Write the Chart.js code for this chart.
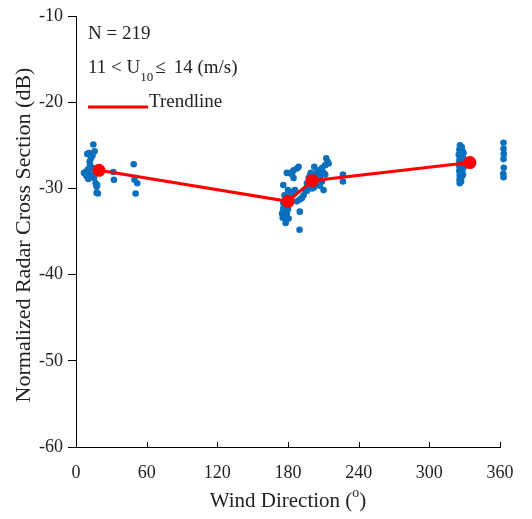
<!DOCTYPE html>
<html>
<head>
<meta charset="utf-8">
<script src="https://cdn.jsdelivr.net/npm/chart.js@4.4.0/dist/chart.umd.min.js"></script>
<style>
html, body { margin: 0; padding: 0; background: #fff; }
</style>
</head>
<body>
<canvas id="nrcsChart" width="532" height="519"></canvas>
<script>
// Observations: wind direction (deg) and NRCS (dB)
const windDir = [
    14.7, 11, 9.6, 15.8, 14, 12.5, 11.6, 11.9, 8.2, 6.8, 9, 11, 13, 10, 14, 10.5, 15.3, 16.7, 18, 17.5, 17.5, 18.6,
    31.7, 32.2, 49, 49.7, 52, 50.6,
    189.8, 190, 187.6, 190, 176, 179, 180.5, 175, 177, 176, 177.7, 179, 184.7, 186, 182, 176, 184.7, 179, 182,
    184.7, 187.6, 189, 183.4, 178, 176.5, 178.5, 180, 181, 177, 180, 175.5, 178,
    212.5, 213.6, 211.6, 214.4, 202.3, 206, 208.8, 210.2, 204.6, 207.4, 211.6, 198.9, 201.7, 197.5, 200.3, 203.1,
    196.1, 198.9, 197.5, 200.3, 203.1, 205.9, 208.8, 194.7, 193.2, 191.8, 210.2, 226.6, 226.6, 205, 209, 202, 196,
    199.5, 207,
    326, 327.5, 325.5, 328, 326.5, 329, 325, 327, 328.5, 326, 329.2, 325.5, 327.5, 326.3, 328.2, 325.2, 327, 329,
    326, 328, 325.5, 327.2, 326.5, 328.6, 325.8, 327.8, 326.4, 325.6, 327, 325.8, 326.8, 327.8, 326.2, 328.4,
    327.4, 326.6,
    363, 363.4, 363, 363.6, 363.2, 363.5, 363, 363.2, 363.5, 362.8, 363
];
const nrcs = [
    -24.9, -25.9, -26.0, -25.7, -26.2, -26.6, -26.9, -27.3, -28.1, -28.2, -28.6, -28.2, -28.4, -27.8, -27.6, -28.9,
    -28.8, -29.4, -29.6, -29.8, -30.5, -30.6,
    -28.1, -29, -27.2, -29, -29.4, -30.6,
    -34.8, -32.7, -31.5, -31.3, -32.3, -32.9, -33.5, -32.9, -33.3, -31.7, -31.3, -31, -30.6, -30.2, -30.4, -29.6,
    -28.8, -28.2, -28.2, -27.9, -27.7, -27.5, -28.4, -32, -32.6, -33.7, -32.4, -31.8, -30.8, -30.2, -33.4, -34,
    -26.5, -26.9, -27.3, -27.1, -27.5, -27.9, -28.1, -28.2, -28.4, -28.6, -28.4, -28.4, -28.6, -28.8, -29, -29.2,
    -29.4, -29.6, -29.8, -30, -29.6, -29.4, -29.2, -30.2, -30.8, -31.1, -30.2, -28.4, -29.2, -28, -27.6, -29.9,
    -30.3, -28.2, -29.7,
    -25.0, -25.2, -25.5, -25.6, -25.8, -25.9, -26.1, -26.2, -26.4, -26.5, -26.6, -26.8, -26.9, -27.1, -27.2, -27.3,
    -27.5, -27.6, -27.7, -27.9, -28.0, -28.1, -28.3, -28.4, -28.5, -28.6, -28.8, -29.0, -29.2, -29.4, -25.4, -26.0,
    -26.9, -27.0, -27.8, -28.9,
    -24.7, -25.0, -25.4, -25.7, -26.0, -26.3, -26.6, -27.6, -27.9, -28.3, -28.7
];

// Trendline nodes
const trendDir = [19.5, 180, 200.5, 334.5];
const trendNrcs = [-27.9, -31.5, -29.1, -27.0];

// Axis ticks
const xTicks = [0, 60, 120, 180, 240, 300, 360];
const yTicks = [-60, -50, -40, -30, -20, -10];

const SERIF = '"Liberation Serif", "Times New Roman", serif';

// Texts, inward x ticks, axis titles
const annot = {
    id: 'annot',
    afterDraw(chart) {
        const ctx = chart.ctx;
        const x = chart.scales.x;
        const a = chart.chartArea;
        ctx.save();
        ctx.strokeStyle = '#000';
        ctx.lineWidth = 1;
        xTicks.forEach(v => {
            const px = Math.round(x.getPixelForValue(v)) + 0.5;
            ctx.beginPath();
            ctx.moveTo(px, a.bottom);
            ctx.lineTo(px, a.bottom - 5);
            ctx.stroke();
        });

        ctx.fillStyle = '#222';
        ctx.textBaseline = 'alphabetic';
        ctx.textAlign = 'left';
        ctx.font = '19px ' + SERIF;
        ctx.fillText('N = 219', 88, 39);

        // 11 < U10 <= 14 (m/s)
        let tx = 88;
        const t1 = '11 < U';
        ctx.fillText(t1, tx, 73);
        tx += ctx.measureText(t1).width;
        ctx.font = '13px ' + SERIF;
        ctx.fillText('10', tx, 81);
        tx += ctx.measureText('10').width + 2;
        ctx.font = '19px ' + SERIF;
        ctx.fillText('\u2264', tx, 73);
        tx += ctx.measureText('\u2264').width + 8;
        ctx.fillText('14 (m/s)', tx, 73);

        // Trendline legend
        ctx.strokeStyle = '#ff0000';
        ctx.lineWidth = 3;
        ctx.beginPath();
        ctx.moveTo(88, 107);
        ctx.lineTo(148, 107);
        ctx.stroke();
        ctx.fillText('Trendline', 149, 107);

        // x title with superscript
        const w1 = 'Wind Direction (';
        ctx.font = '14px ' + SERIF;
        const wo = ctx.measureText('o').width;
        ctx.font = '21px ' + SERIF;
        const total = ctx.measureText(w1).width + wo + ctx.measureText(')').width;
        let xx = (a.left + a.right) / 2 - total / 2;
        ctx.fillText(w1, xx, 507);
        xx += ctx.measureText(w1).width;
        ctx.font = '14px ' + SERIF;
        ctx.fillText('o', xx, 497);
        xx += wo;
        ctx.font = '21px ' + SERIF;
        ctx.fillText(')', xx, 507);

        // y title
        ctx.font = '22px ' + SERIF;
        ctx.translate(24, 235);
        ctx.rotate(-Math.PI / 2);
        ctx.textAlign = 'center';
        ctx.textBaseline = 'middle';
        ctx.fillText('Normalized Radar Cross Section (dB)', 0, 0);
        ctx.restore();
    }
};

const points = windDir.map((d, i) => ({ x: d, y: nrcs[i] }));
const trend = trendDir.map((d, i) => ({ x: d, y: trendNrcs[i] }));

new Chart(document.getElementById('nrcsChart'), {
    type: 'scatter',
    data: {
        datasets: [
            {
                label: 'Trendline',
                data: trend,
                showLine: true,
                borderColor: '#ff0000',
                backgroundColor: '#ff0000',
                borderWidth: 3,
                pointRadius: 5,
                pointHoverRadius: 5,
                order: 0
            },
            {
                label: 'Data',
                data: points,
                backgroundColor: '#0b6fbd',
                borderWidth: 0,
                pointRadius: 3.3,
                clip: false,
                order: 1
            }
        ]
    },
    plugins: [annot],
    options: {
        responsive: false,
        animation: false,
        devicePixelRatio: 1,
        layout: { padding: { top: 16, right: 32, left: 0, bottom: 0 } },
        plugins: { legend: { display: false }, tooltip: { enabled: false } },
        scales: {
            x: {
                type: 'linear',
                min: 0,
                max: 360,
                afterFit: s => { s.height = 72; },
                afterBuildTicks: s => { s.ticks = xTicks.map(v => ({ value: v })); },
                grid: { display: false },
                border: { display: true, color: '#000', width: 1 },
                ticks: { color: '#222', font: { family: SERIF, size: 18 }, padding: 7, maxRotation: 0 }
            },
            y: {
                type: 'linear',
                min: -60,
                max: -10,
                afterFit: s => { s.width = 76; },
                afterBuildTicks: s => { s.ticks = yTicks.map(v => ({ value: v })); },
                grid: { display: true, drawOnChartArea: false, drawTicks: true, tickLength: 8, color: '#000' },
                border: { display: true, color: '#000', width: 1 },
                ticks: { color: '#222', font: { family: SERIF, size: 18 }, padding: 5 }
            }
        }
    }
});
</script>
</body>
</html>
